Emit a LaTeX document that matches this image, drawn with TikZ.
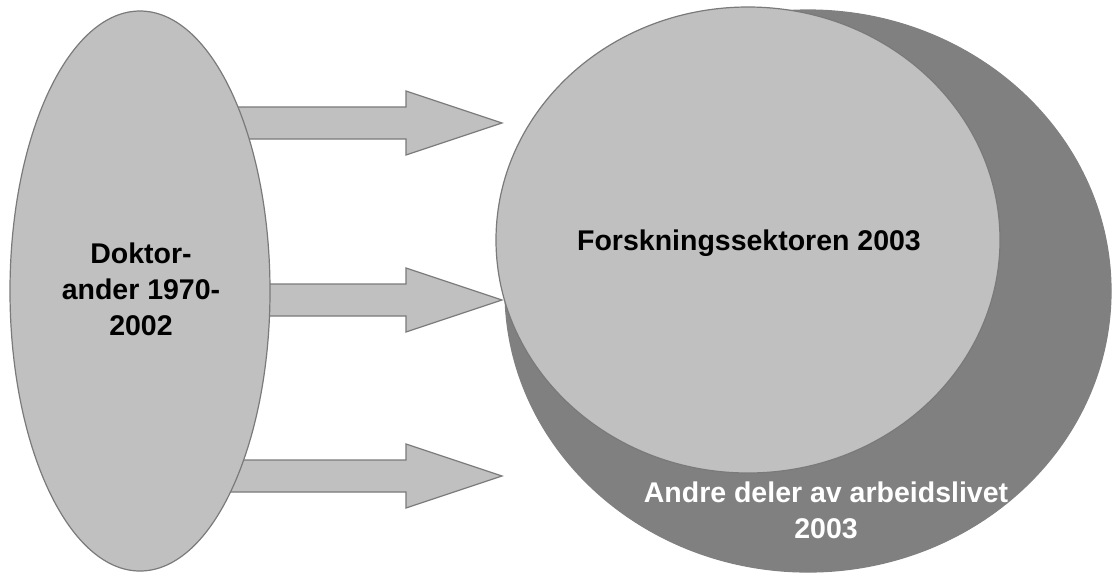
\documentclass[tikz,border=0pt]{standalone}
\usepackage{fontspec}
\setmainfont{Liberation Sans}
\usetikzlibrary{shapes.geometric}
\definecolor{lightfill}{HTML}{C0C0C0}
\definecolor{darkfill}{HTML}{808080}
\definecolor{edgegray}{HTML}{7A7A7A}
\begin{document}
\begin{tikzpicture}[x=0.5pt,y=-0.5pt,
  blob/.style={ellipse, inner sep=0pt, draw=edgegray, line width=0.6pt},
  blockarrow/.style={fill=lightfill, draw=edgegray, line width=0.6pt, line join=miter},
  lbl/.style={font=\fontsize{14.25pt}{18pt}\selectfont\bfseries, align=center, inner sep=0pt}]
\useasboundingbox (0,0) rectangle (1112,574);
% block arrows (drawn first, partly hidden by the left ellipse)
\foreach \c [count=\i] in {123,300,476}{
  \coordinate (a\i) at (502,\c);
  \draw[blockarrow] (200,\c-16) -- (406,\c-16) -- (406,\c-32) -- (a\i)
     -- (406,\c+32) -- (406,\c+16) -- (200,\c+16) -- cycle;
}
% left ellipse
\node[blob, fill=lightfill, minimum width=130pt, minimum height=280pt] (dok) at (140,291) {};
% right ellipses
\node[blob, fill=darkfill, draw=darkfill, minimum width=303pt, minimum height=281pt] (andre) at (808,291) {};
\node[blob, fill=lightfill, minimum width=252pt, minimum height=233pt] (forsk) at (748,240) {};
% labels (base anchor = baseline of the last line)
\node[lbl, anchor=base] (tdok) at (141,335) {Doktor-\\ander 1970-\\2002};
\node[lbl, anchor=base] (tforsk) at (749,250) {Forskningssektoren 2003};
\node[lbl, anchor=base, text=white] (tandre) at (826,538) {Andre deler av arbeidslivet\\2003};
\end{tikzpicture}
\end{document}
